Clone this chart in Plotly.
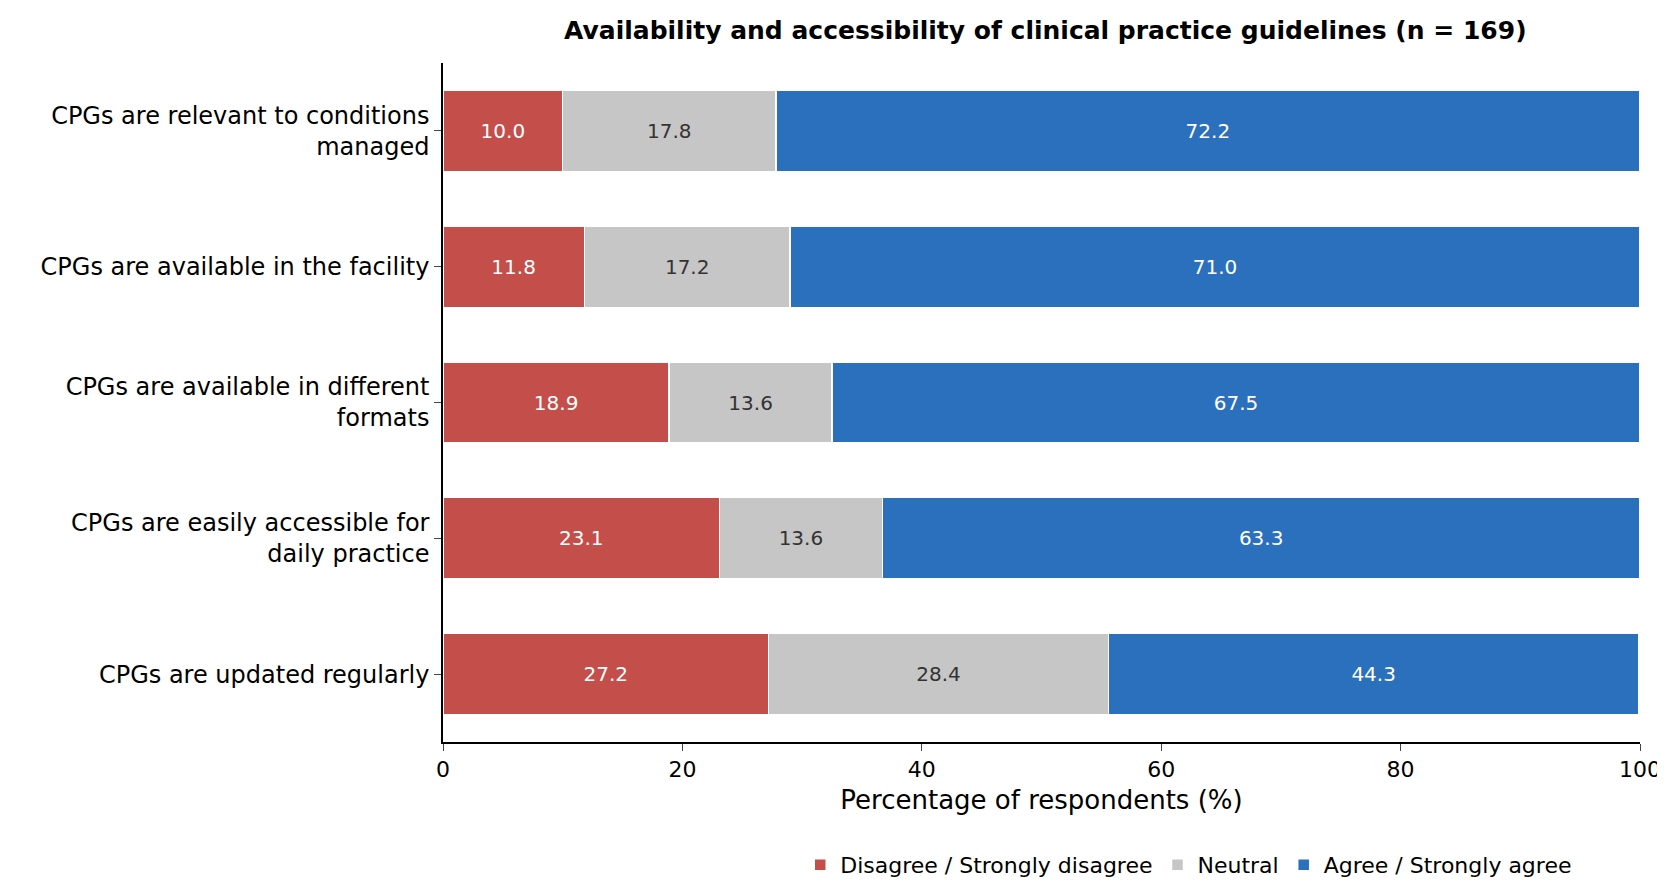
import plotly.graph_objects as go

statements = [
    "CPGs are relevant to conditions<br>managed",
    "CPGs are available in the facility",
    "CPGs are available in different<br>formats",
    "CPGs are easily accessible for<br>daily practice",
    "CPGs are updated regularly",
]
disagree = [10.0, 11.8, 18.9, 23.1, 27.2]
neutral = [17.8, 17.2, 13.6, 13.6, 28.4]
agree = [72.2, 71.0, 67.5, 63.3, 44.3]

series = [
    ("Disagree / Strongly disagree", disagree, "#c44e4a", "white"),
    ("Neutral", neutral, "#c6c6c6", "#333333"),
    ("Agree / Strongly agree", agree, "#2b70bd", "white"),
]

fig = go.Figure()
for name, vals, color, txtcolor in series:
    fig.add_trace(go.Bar(
        y=statements, x=vals, name=name, orientation="h",
        marker=dict(color=color, line=dict(color="white", width=1.5)),
        width=0.6,
        text=[f"{v:.1f}" for v in vals], textposition="inside",
        insidetextanchor="middle",
        textfont=dict(color=txtcolor, size=20),
    ))

fig.update_layout(
    barmode="stack",
    width=1665, height=890,
    paper_bgcolor="white", plot_bgcolor="white",
    font=dict(family="DejaVu Sans", size=22, color="black"),
    margin=dict(l=435, r=25, t=55, b=143),
    title=dict(text="<b>Availability and accessibility of clinical practice guidelines (n = 169)</b>",
               x=0.623, xanchor="center", y=0.985, yanchor="top", font=dict(size=25)),
    xaxis=dict(range=[0, 100], dtick=20, showgrid=False, showline=True,
               linecolor="black", linewidth=1.5, ticks="outside", ticklen=7,
               title=dict(text="Percentage of respondents (%)", standoff=10),
               tickfont=dict(size=22)),
    yaxis=dict(autorange="reversed", showgrid=False, showline=True,
               linecolor="black", linewidth=1.5, ticks="outside", ticklen=7,
               tickfont=dict(size=24)),
    legend=dict(orientation="h", x=0.623, xanchor="center", y=-0.15, yanchor="top",
                font=dict(size=22), traceorder="normal"),
    uniformtext=dict(mode="show", minsize=16),
)

fig.write_html("out.html")
